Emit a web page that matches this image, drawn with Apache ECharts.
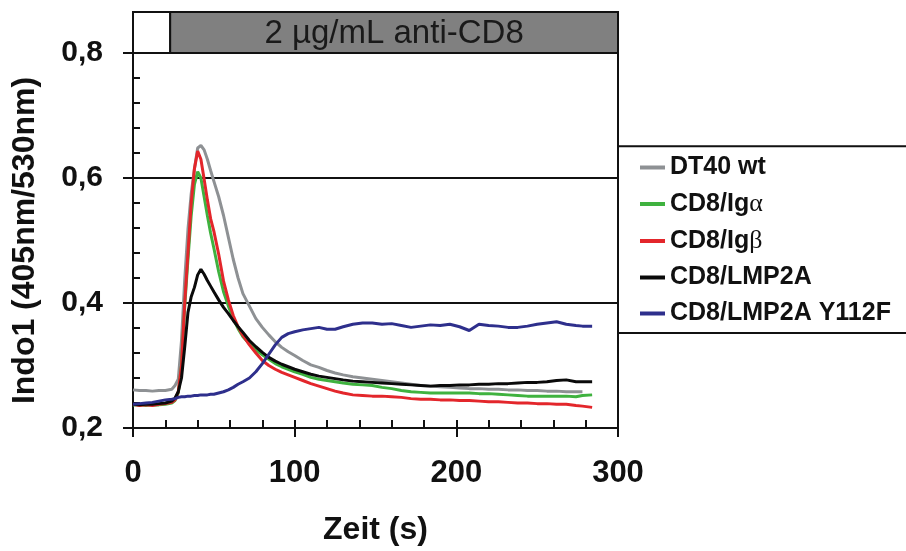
<!DOCTYPE html>
<html>
<head>
<meta charset="utf-8">
<script src="https://cdn.jsdelivr.net/npm/echarts@6/dist/echarts.min.js"></script>
<style>
html, body { margin: 0; padding: 0; background: #fff; }
#main { width: 906px; height: 551px; }
</style>
</head>
<body>
<div id="main"></div>
<script>
// Zeit (s)
var times = [0, 4, 8, 12, 16, 20, 24, 26, 28, 30, 32, 34, 36, 38, 40, 42, 44, 46, 48, 50,
  53, 56, 59, 62, 65, 68, 72, 76, 80, 84, 88, 92, 96, 100, 105, 110, 115, 120, 125, 130,
  136, 142, 148, 154, 160, 166, 172, 178, 184, 190, 196, 202, 208, 214, 220, 226, 232, 238,
  244, 250, 256, 262, 268, 274, 278, 284];

var dt40 = [0.261, 0.260, 0.260, 0.259, 0.260, 0.260, 0.262, 0.268, 0.278, 0.340, 0.438, 0.518, 0.575, 0.615, 0.648, 0.652, 0.645, 0.630, 0.612, 0.595,
  0.570, 0.540, 0.505, 0.470, 0.440, 0.415, 0.395, 0.375, 0.361, 0.349, 0.338, 0.329, 0.322, 0.316, 0.308, 0.301, 0.297, 0.292, 0.288, 0.285,
  0.282, 0.280, 0.278, 0.276, 0.274, 0.272, 0.270, 0.268, 0.267, 0.266, 0.265, 0.264, 0.263, 0.263, 0.262, 0.262, 0.261, 0.261,
  0.260, 0.260, 0.259, 0.259, 0.258, 0.258, 0.258, null];

var cd8Iga = [0.237, 0.237, 0.236, 0.237, 0.237, 0.238, 0.240, 0.244, 0.256, 0.300, 0.395, 0.470, 0.540, 0.590, 0.610, 0.600, 0.570, 0.540, 0.512, 0.488,
  0.450, 0.418, 0.395, 0.375, 0.359, 0.346, 0.335, 0.325, 0.317, 0.310, 0.303, 0.298, 0.294, 0.290, 0.286, 0.281, 0.278, 0.276, 0.274, 0.272,
  0.270, 0.269, 0.268, 0.265, 0.263, 0.260, 0.258, 0.257, 0.256, 0.256, 0.256, 0.256, 0.256, 0.255, 0.255, 0.254, 0.253, 0.252,
  0.251, 0.251, 0.251, 0.251, 0.251, 0.250, 0.252, 0.253];

var cd8Igb = [0.238, 0.236, 0.237, 0.236, 0.238, 0.239, 0.241, 0.245, 0.258, 0.300, 0.400, 0.480, 0.560, 0.615, 0.643, 0.630, 0.598, 0.565, 0.535, 0.515,
  0.478, 0.435, 0.405, 0.380, 0.362, 0.348, 0.333, 0.320, 0.308, 0.300, 0.294, 0.289, 0.285, 0.281, 0.276, 0.271, 0.267, 0.263, 0.259, 0.256,
  0.253, 0.252, 0.251, 0.251, 0.250, 0.249, 0.247, 0.246, 0.246, 0.245, 0.245, 0.244, 0.244, 0.243, 0.242, 0.242, 0.241, 0.240,
  0.240, 0.239, 0.239, 0.238, 0.238, 0.236, 0.235, 0.233];

var cd8Lmp2a = [0.238, 0.237, 0.238, 0.238, 0.239, 0.240, 0.243, 0.248, 0.258, 0.280, 0.330, 0.385, 0.410, 0.425, 0.445, 0.454, 0.446, 0.436, 0.427, 0.418,
  0.405, 0.393, 0.383, 0.372, 0.362, 0.353, 0.340, 0.330, 0.321, 0.313, 0.307, 0.302, 0.298, 0.294, 0.290, 0.286, 0.283, 0.281, 0.279, 0.277,
  0.275, 0.274, 0.273, 0.272, 0.271, 0.270, 0.269, 0.268, 0.267, 0.268, 0.268, 0.269, 0.269, 0.270, 0.270, 0.271, 0.271, 0.272,
  0.273, 0.273, 0.274, 0.276, 0.277, 0.274, 0.274, 0.274];

var cd8Y112f = [0.238, 0.239, 0.240, 0.241, 0.243, 0.245, 0.246, 0.247, 0.249, 0.250, 0.250, 0.251, 0.251, 0.252, 0.252, 0.253, 0.253, 0.253, 0.254, 0.254,
  0.256, 0.258, 0.261, 0.265, 0.270, 0.274, 0.280, 0.290, 0.303, 0.318, 0.333, 0.345, 0.351, 0.354, 0.357, 0.359, 0.361, 0.358, 0.358, 0.362,
  0.366, 0.368, 0.368, 0.366, 0.367, 0.364, 0.361, 0.363, 0.365, 0.364, 0.366, 0.362, 0.356, 0.366, 0.364, 0.363, 0.361, 0.361,
  0.363, 0.366, 0.368, 0.370, 0.366, 0.364, 0.363, 0.363];

var names = ['DT40 wt', 'CD8/Igα', 'CD8/Igβ', 'CD8/LMP2A', 'CD8/LMP2A Y112F'];
var colors = ['#8e9194', '#3fb23f', '#e3262b', '#0a0a0a', '#2e2f8c'];
var values = [dt40, cd8Iga, cd8Igb, cd8Lmp2a, cd8Y112f];

var stimStart = 23;
var stimLabel = '2 µg/mL anti-CD8';

var font = "'Liberation Sans', Arial, sans-serif";

var chart = echarts.init(document.getElementById('main'));

var series = names.map(function (name, k) {
  return {
    name: name,
    type: 'line',
    showSymbol: false,
    animation: false,
    connectNulls: false,
    lineStyle: { color: colors[k], width: 3 },
    itemStyle: { color: colors[k] },
    data: times.map(function (t, i) { return [t, values[k][i]]; })
  };
});

var option = {
  backgroundColor: '#fff',
  animation: false,
  grid: { left: 133, right: 288, top: 53, bottom: 122 },
  legend: {
    orient: 'vertical',
    left: 640,
    top: 155,
    padding: 0,
    itemWidth: 25,
    itemHeight: 4,
    itemGap: 11,
    icon: 'rect',
    data: names,
    textStyle: {
      fontFamily: font, fontWeight: 'bold', fontSize: 25, color: '#111',
      rich: {
        g: { fontFamily: "'Liberation Serif', serif", fontWeight: 'normal', fontSize: 26, color: '#111' }
      }
    },
    formatter: function (name) {
      return name.replace('α', '{g|α}').replace('β', '{g|β}');
    }
  },
  xAxis: [{
    type: 'value', min: 0, max: 300, interval: 100,
    name: 'Zeit (s)', nameLocation: 'middle', nameGap: 86,
    nameTextStyle: { fontFamily: font, fontWeight: 'bold', fontSize: 32, color: '#111' },
    axisLine: { show: true, lineStyle: { color: '#111', width: 2 } },
    axisTick: { show: true, length: 9, lineStyle: { color: '#111', width: 2 } },
    axisLabel: { margin: 30, fontFamily: font, fontWeight: 'bold', fontSize: 31, color: '#111' },
    splitLine: { show: false }
  }, {
    type: 'value', position: 'bottom', min: 0, max: 300, interval: 20,
    axisLine: { show: false },
    axisTick: { show: true, inside: true, length: 8, lineStyle: { color: '#111', width: 2 } },
    axisLabel: { show: false },
    splitLine: { show: false }
  }],
  yAxis: [{
    type: 'value', min: 0.2, max: 0.8, interval: 0.2,
    name: 'Indo1 (405nm/530nm)', nameLocation: 'middle', nameGap: 92, nameRotate: 90,
    nameTextStyle: { fontFamily: font, fontWeight: 'bold', fontSize: 32, color: '#111' },
    axisLine: { show: true, lineStyle: { color: '#111', width: 2 } },
    axisTick: { show: true, length: 10, lineStyle: { color: '#111', width: 2 } },
    axisLabel: {
      margin: 30, fontFamily: font, fontWeight: 'bold', fontSize: 30, color: '#111',
      formatter: function (v) { return v.toFixed(1).replace('.', ','); }
    },
    splitLine: { show: true, lineStyle: { color: '#111', width: 2 } }
  }, {
    type: 'value', position: 'left', min: 0.2, max: 0.8, interval: 0.04,
    axisLine: { show: false },
    axisTick: { show: true, inside: true, length: 7, lineStyle: { color: '#111', width: 2 } },
    axisLabel: { show: false },
    splitLine: { show: false }
  }, {
    type: 'value', position: 'right', min: 0.2, max: 0.8,
    axisLine: { show: true, lineStyle: { color: '#111', width: 2 } },
    axisTick: { show: false },
    axisLabel: { show: false },
    splitLine: { show: false }
  }],
  series: series
};

chart.setOption(option);

// stimulus bar above the plot and the legend frame
var x0 = chart.convertToPixel({ xAxisIndex: 0 }, 0);
var xs = chart.convertToPixel({ xAxisIndex: 0 }, stimStart);
var x1 = chart.convertToPixel({ xAxisIndex: 0 }, 300);
var yTop = chart.convertToPixel({ yAxisIndex: 0 }, 0.8);
var yLeg0 = chart.convertToPixel({ yAxisIndex: 0 }, 0.651);
var yLeg1 = chart.convertToPixel({ yAxisIndex: 0 }, 0.352);

chart.setOption({
  graphic: [{
    type: 'rect', z: 10,
    shape: { x: x0, y: 12, width: xs - x0, height: yTop - 12 },
    style: { fill: '#fff', stroke: '#111', lineWidth: 2 }
  }, {
    type: 'rect', z: 10,
    shape: { x: xs, y: 12, width: x1 - xs, height: yTop - 12 },
    style: { fill: '#808080', stroke: '#111', lineWidth: 2 }
  }, {
    type: 'text', z: 11,
    x: (xs + x1) / 2, y: (12 + yTop) / 2 + 1,
    style: {
      text: stimLabel, fill: '#1a1a1a', fontFamily: font, fontSize: 33,
      align: 'center', verticalAlign: 'middle'
    }
  }, {
    type: 'rect', z: 10,
    shape: { x: x1, y: yLeg0, width: 400, height: yLeg1 - yLeg0 },
    style: { fill: 'none', stroke: '#111', lineWidth: 2 }
  }]
});
</script>
</body>
</html>
